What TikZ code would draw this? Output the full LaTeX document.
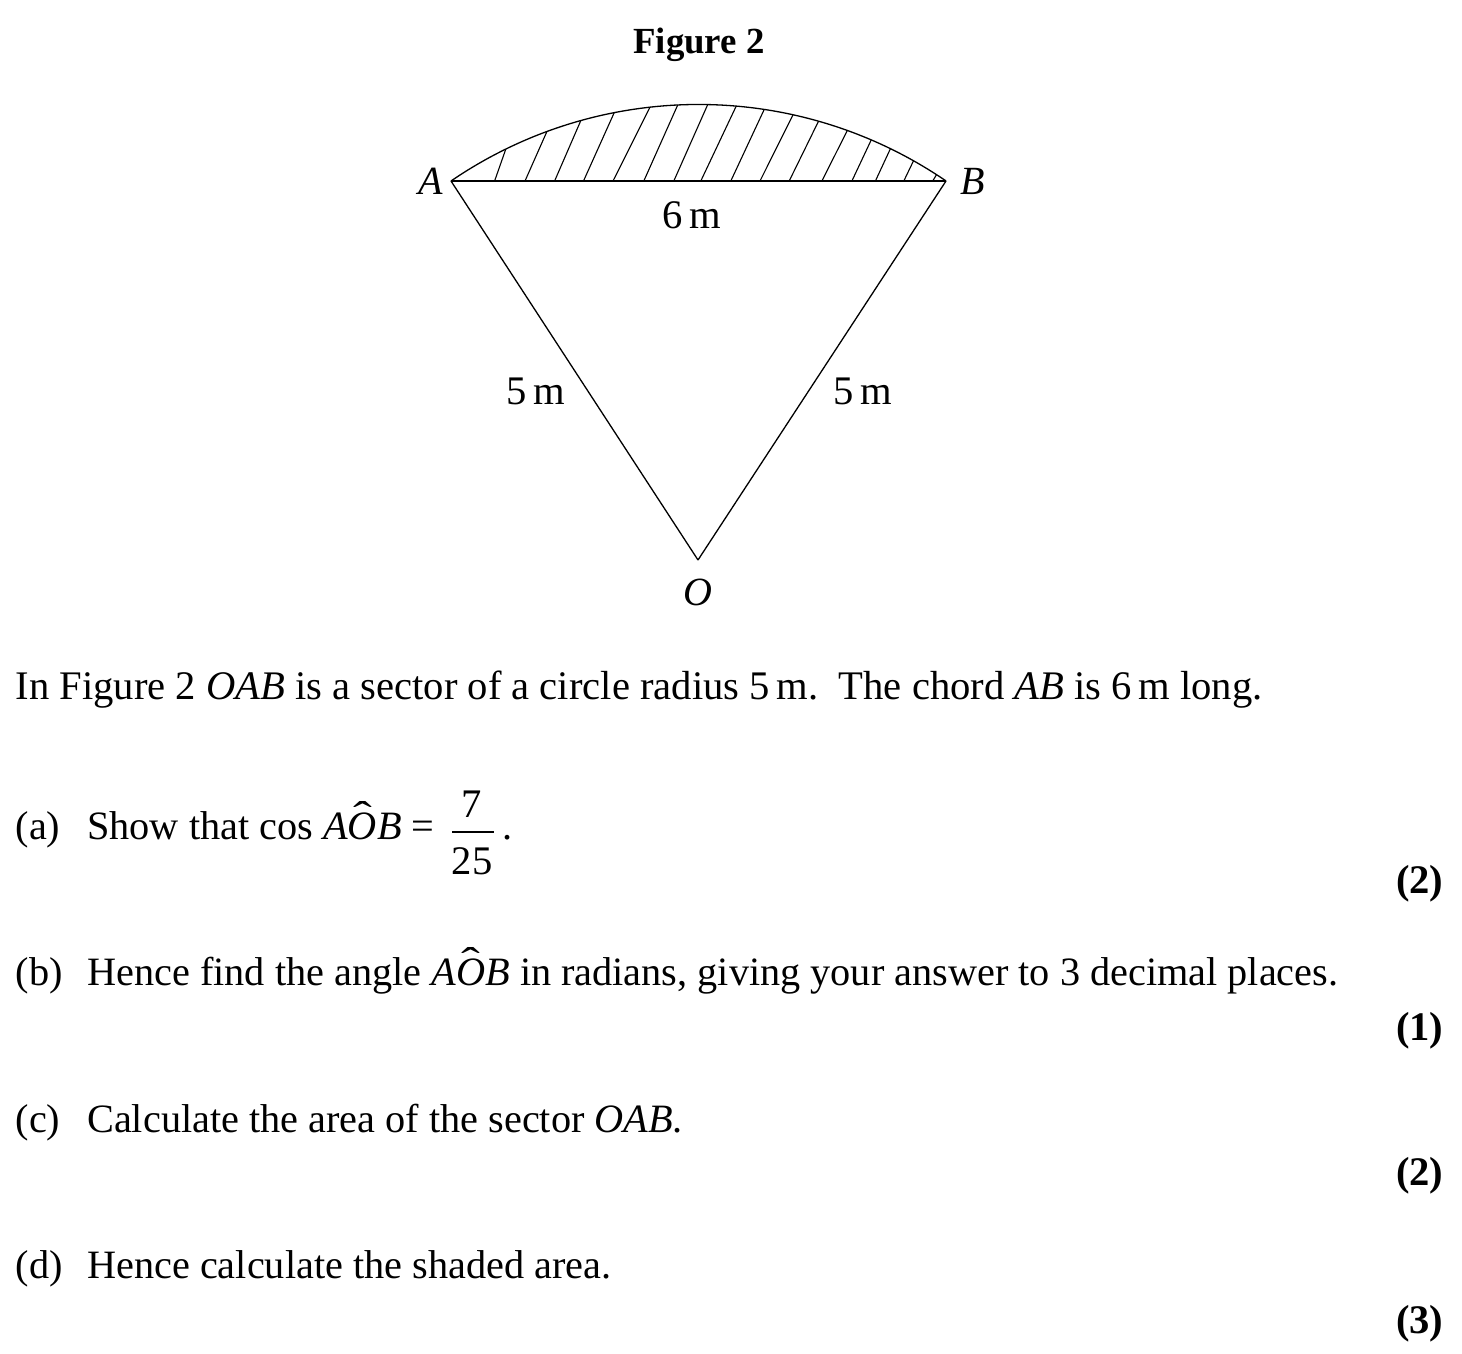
\documentclass[tikz,border=0pt]{standalone}
\usepackage{fontspec}
\setmainfont{Liberation Serif}
\newcommand{\hatO}{\ooalign{\textit{O}\cr\hidewidth\raisebox{5pt}{\scalebox{1.4}[1]{\char"02C6}}\hidewidth\cr}}
\newcommand{\partlabel}[1]{\makebox[35.8pt][l]{#1}}
\tikzset{
  body/.style = {anchor = base west, inner sep = 0pt, font = \fontsize{20.13}{24}\selectfont},
  marks/.style = {anchor = base east, inner sep = 0pt, font = \fontsize{20.3}{24}\selectfont\bfseries},
  fig/.style = {inner sep = 0pt, font = \fontsize{20.3}{24}\selectfont},
  hatch/.style = {line width = 0.55pt}
}
\begin{document}
\begin{tikzpicture}[x = 0.5pt, y = -0.5pt, line width = 0.65pt, every label/.style = {inner sep = 0pt, font = \fontsize{20}{24}\selectfont\itshape}]
  \useasboundingbox (0,0) rectangle (1462,1354);

  \coordinate[label = {[label distance = 3.5pt]left:A}] (A) at (451,181);
  \coordinate[label = {[label distance = 7pt]right:B}] (B) at (946,181);
  \coordinate[label = {[label distance = 9pt]below:O}] (O) at (698,560);

  \draw (A) -- (B);
  \draw (O) -- (A);
  \draw (O) -- (B);
  \draw (A) arc[start angle = 235.64, end angle = 304.36, radius = 438.6];

  \foreach \bx/\tx in {494.6/505.8, 525/546.9, 554.6/580.8, 583.5/614.2, 613/650, 643.8/677.7,
    673.8/707.7, 700.8/736.2, 730.8/764.2, 760/793, 789.2/818.5, 821.9/847.3, 851.9/871.2,
    875.4/890.4, 903.8/913.5, 932.7/936.5}
  {
    \pgfmathsetmacro{\ty}{543.1 - 438.6*cos(asin((\tx - 698.5)/438.6))}
    \draw[hatch] (\bx,181) -- (\tx,\ty);
  }

  \node[fig, font = \fontsize{18.4}{22}\selectfont\bfseries] (title) at (699,45) {Figure 2};
  \node[fig] (chord) at (692,215) {6\,m};
  \node[fig] (left5) at (536,391) {5\,m};
  \node[fig] (right5) at (863,391) {5\,m};

  \node[body, font = \fontsize{20.3}{24}\selectfont] (intro) at (15,699) {In Figure 2 \textit{OAB} is a sector of a circle radius 5\,m.\ \ The chord \textit{AB} is 6\,m long.};

  \node[body] (parta) at (15,839) {\partlabel{(a)}Show that cos \textit{A}\hatO\textit{B}\hspace{5pt}=};
  \node[fig] (num) at (472,804) {7};
  \node[fig] (den) at (472,861) {25};
  \coordinate (barl) at (452,832);
  \coordinate (barr) at (494,832);
  \draw (barl) -- (barr);
  \node[body] (dot) at (502,839) {.};
  \node[marks] (marka) at (1444,893) {(2)};

  \node[body] (partb) at (15,985) {\partlabel{(b)}Hence find the angle \textit{A}\hatO\textit{B} in radians, giving your answer to 3 decimal places.};
  \node[marks] (markb) at (1444,1040) {(1)};

  \node[body] (partc) at (15,1132) {\partlabel{(c)}Calculate the area of the sector \textit{OAB}.};
  \node[marks] (markc) at (1444,1185) {(2)};

  \node[body] (partd) at (15,1278) {\partlabel{(d)}Hence calculate the shaded area.};
  \node[marks] (markd) at (1444,1333) {(3)};
\end{tikzpicture}
\end{document}
